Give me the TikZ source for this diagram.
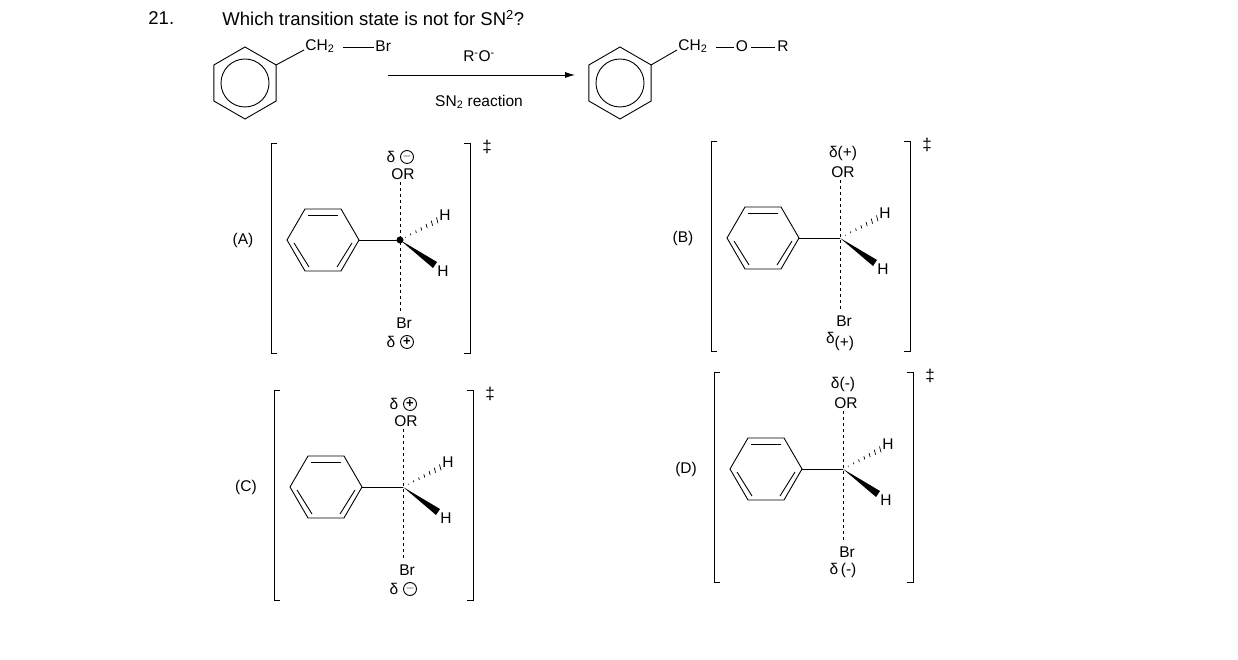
\documentclass[tikz,border=0pt]{standalone}
\usepackage{fontspec}
\setmainfont{Liberation Sans}
\usetikzlibrary{arrows.meta,calc}
\begin{document}
\begin{tikzpicture}[x=1pt,y=1pt,line width=0.9pt,
  lbl/.style={font=\fontsize{15.5}{15.5}\selectfont,inner sep=0pt},
  big/.style={font=\fontsize{18.5}{18.5}\selectfont,inner sep=0pt},
  chg/.style={circle,draw,line width=0.9pt,inner sep=0pt,minimum size=13pt,font=\fontsize{13}{13}\selectfont\bfseries}]
\useasboundingbox (0,0) rectangle (1238,660);
\newcommand{\hexring}[3]{% center x, y, radius (pointy top)
  \draw (#1,#2+#3) -- ++(210:#3) -- ++(270:#3) -- ++(330:#3) -- ++(30:#3) -- ++(90:#3) -- cycle;}
% header
\node[big,anchor=west] (num) at (148,642) {21.};
\node[big,anchor=west] (q) at (222,642) {Which transition state is not for SN\textsuperscript{2}?};
% reactant
\hexring{245}{577}{36}
\draw (245,577) circle (24);
\draw (276,595) -- (304,610);
\node[lbl,anchor=west] (ch2a) at (305,614) {CH\textsubscript{2}};
\draw (343,613) -- (374,613);
\node[lbl,anchor=west] (bra) at (375,614) {Br};
% arrow
\coordinate (a1) at (388,585); \coordinate (a2) at (575,585);
\draw[-{Latex[length=10pt,width=6pt]}] (a1) -- (a2);
\node[lbl] (ro) at (479,604) {R\textsuperscript{-}O\textsuperscript{-}};
\node[lbl] (sn) at (479,558) {SN\textsubscript{2} reaction};
% product
\hexring{620}{577}{36}
\draw (620,577) circle (24);
\draw (651,595) -- (677,610);
\node[lbl,anchor=west] (ch2b) at (678,614) {CH\textsubscript{2}};
\draw (716,613) -- (734,613);
\node[lbl] (o) at (742,614) {O};
\draw (751,613) -- (775,613);
\node[lbl] (r) at (783,614) {R};
\newcommand{\TS}[6]{%
\begin{scope}[shift={(#1,#2)}]
  \draw (-41,0) -- (-59,31) -- (-95,31) -- (-113,0) -- (-95,-31) -- (-59,-31) -- cycle;
  \draw (-62,25) -- (-92,25);
  \draw (-106,-3) -- (-91,-27);
  \draw (-63,-27) -- (-48,-3);
  \draw (-41,0) -- (0,0);
  \foreach \t in {0.14,0.28,...,1.0} {
    \draw[line width=0.7pt] ($(0,0)!\t!(38,20)+(-\t*0.8,\t*3)$) -- ($(0,0)!\t!(38,20)+(\t*0.8,-\t*3)$);}
  \fill (0,0) -- (37,-22) -- (33,-28) -- cycle;
  #6
  \draw[dashed,line width=0.8pt] (0,58) -- (0,-72);
  \node[lbl] at (45,25) {H};
  \node[lbl] at (43,-31) {H};
  \node[lbl] at (3,66) {OR};
  \node[lbl] at (4,-83) {Br};
  #4
  #5
  \draw (-123,97) -- (-129,97) -- (-129,-113) -- (-123,-113);
  \draw (64,97) -- (70,97) -- (70,-113) -- (64,-113);
  \node[lbl,font=\fontsize{17}{17}\selectfont] at (87,93) {‡};
  \node[lbl] at (-157,0) {#3};
\end{scope}}
\TS{400}{420}{(A)}{\node[lbl] at (-9,83) {δ}; \node[chg] at (7,83) {$-$};}{\node[lbl] at (-9,-102) {δ}; \node[chg] at (7,-102) {+};}{\fill (0,0) circle (3.5);}
\TS{840}{422}{(B)}{\node[lbl] at (3,85) {δ(+)};}{\node[lbl] at (0,-103) {δ\raisebox{-4pt}{(+)}};}{}
\TS{403}{173}{(C)}{\node[lbl] at (-9,83) {δ}; \node[chg] at (7,83) {+};}{\node[lbl] at (-9,-102) {δ}; \node[chg] at (7,-102) {$-$};}{}
\TS{843}{191}{(D)}{\node[lbl] at (0,85) {δ(-)};}{\node[lbl] at (0,-101) {δ\,(-)};}{}
\end{tikzpicture}
\end{document}
